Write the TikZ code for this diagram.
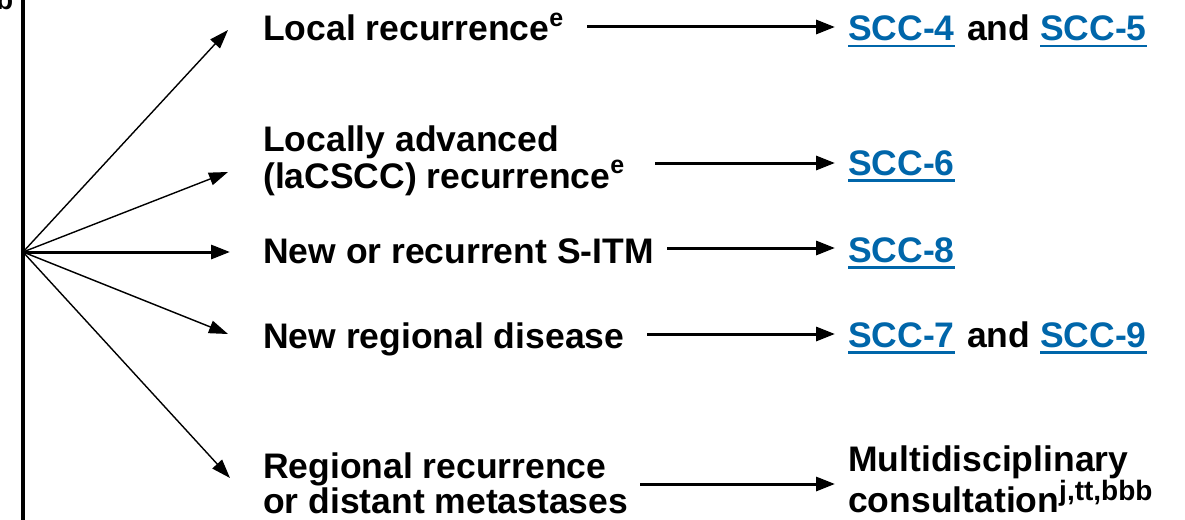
\documentclass[tikz,border=0pt]{standalone}
\usepackage{fontspec}
\setmainfont{Liberation Sans}
\usetikzlibrary{arrows.meta}
\definecolor{linkblue}{RGB}{0,102,170}
\newcommand{\supx}[2][14.5pt]{\raisebox{#1}{\fontsize{25}{25}\selectfont #2}}
\begin{document}
\begin{tikzpicture}[x=1pt,y=-1pt,
  txt/.style={anchor=base west, inner sep=0pt, font=\fontsize{35.5}{36}\selectfont\bfseries},
  two/.style={txt, align=left, font=\fontsize{35.5}{#1}\selectfont\bfseries},
  lnk/.style={txt, text=linkblue},
  uline/.style={linkblue, line width=2.6pt},
  fan/.style={line width=1.4pt, -{Triangle[length=19pt,width=13pt]}},
  harr/.style={line width=3pt, -{Triangle[length=19pt,width=14pt]}},
]
\useasboundingbox (0,0) rectangle (1185,519);
% partial superscript at the corner
\node[txt, font=\fontsize{28}{28}\selectfont\bfseries] (cb) at (-4,10) {b};
% vertical rule
\coordinate (vt) at (23,-5);
\coordinate (vb) at (23,525);
\draw[line width=3.5pt] (vt) -- (vb);
\coordinate (o) at (23,252);
% fan tips
\coordinate (f1) at (228,30);
\coordinate (f2) at (228,172);
\coordinate (f3) at (230,252);
\coordinate (f4) at (228,334);
\coordinate (f5) at (230,478);
\draw[fan] (o) -- (f1);
\draw[fan] (o) -- (f2);
\draw[harr] (o) -- (f3);
\draw[fan] (o) -- (f4);
\draw[fan] (o) -- (f5);
% left texts (base anchor = baseline of the last line)
\node[txt] (t1) at (263,40.7) {Local recurrence\supx{e}};
\node[two=30] (t2) at (263,188) {Locally advanced\\(laCSCC) recurrence\supx{e}};
\node[txt] (t3) at (263,263) {New or recurrent S-ITM};
\node[txt] (t4) at (263,348) {New regional disease};
\node[two=32] (t5) at (263,513) {Regional recurrence\\or distant metastases};
% right texts
\node[lnk] (s4) at (848,40.5) {SCC-4};
\node[txt] (and1) at (967,40.5) {and};
\node[lnk] (s5) at (1040,40.5) {SCC-5};
\node[lnk] (s6) at (848,175) {SCC-6};
\node[lnk] (s8) at (848,262) {SCC-8};
\node[lnk] (s7) at (848,347) {SCC-7};
\node[txt] (and2) at (967,347) {and};
\node[lnk] (s9) at (1040,347) {SCC-9};
\node[two=35] (m) at (848,512) {Multidisciplinary\\consultation\supx[12pt]{\fontsize{28}{28}\selectfont j,tt,bbb}};
% underlines
\foreach \n in {s4,s5,s6,s8,s7,s9}{
  \draw[uline] ([yshift=-5pt]\n.south west) -- ([yshift=-5pt]\n.south east);
}
% right arrows
\coordinate (r1s) at (587,27);  \coordinate (r1e) at (835,27);
\coordinate (r2s) at (655,163); \coordinate (r2e) at (835,163);
\coordinate (r3s) at (667,248); \coordinate (r3e) at (835,248);
\coordinate (r4s) at (647,334); \coordinate (r4e) at (835,334);
\coordinate (r5s) at (640,484); \coordinate (r5e) at (835,484);
\foreach \i in {1,...,5}{\draw[harr] (r\i s) -- (r\i e);}
\end{tikzpicture}
\end{document}
